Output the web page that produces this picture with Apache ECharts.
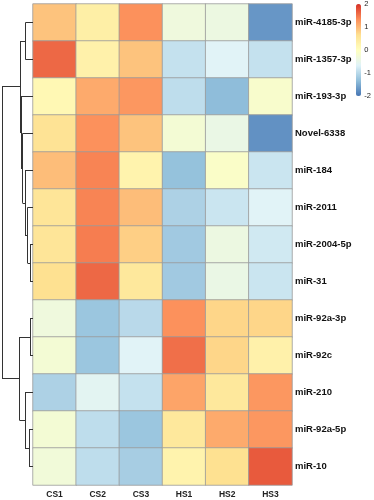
<!DOCTYPE html>
<html><head><meta charset="utf-8">
<script src="https://cdn.jsdelivr.net/npm/echarts@6/dist/echarts.min.js"></script>
<style>html,body{margin:0;padding:0;background:#fff}#c{width:374px;height:500px}</style>
</head><body><div id="c"></div>
<script>
const samples = ['CS1','CS2','CS3','HS1','HS2','HS3'];
const genes = ['miR-4185-3p','miR-1357-3p','miR-193-3p','Novel-6338','miR-184','miR-2011','miR-2004-5p','miR-31','miR-92a-3p','miR-92c','miR-210','miR-92a-5p','miR-10'];
const values = [
  [0.9, 0.35, 1.3, -0.35, -0.4, -1.7],
  [1.6, 0.3, 0.9, -0.9, -0.65, -0.9],
  [0.15, 1.1, 1.25, -0.95, -1.35, -0.15],
  [0.6, 1.3, 0.9, -0.25, -0.45, -1.75],
  [0.95, 1.4, 0.25, -1.3, -0.1, -0.85],
  [0.55, 1.4, 0.95, -1.1, -0.85, -0.65],
  [0.55, 1.45, 0.8, -1.2, -0.4, -0.8],
  [0.65, 1.6, 0.5, -1.2, -0.45, -0.85],
  [-0.35, -1.25, -1.0, 1.3, 0.75, 0.75],
  [-0.25, -1.25, -0.65, 1.55, 0.75, 0.3],
  [-1.1, -0.6, -0.9, 1.15, 0.5, 1.25],
  [-0.25, -0.95, -1.25, 0.5, 1.1, 1.25],
  [-0.3, -0.95, -1.15, 0.25, 0.65, 1.7]
];
const legendTicks = [-2, -1, 0, 1, 2];
const palette = ['#4575B4','#91BFDB','#E0F3F8','#FFFFBF','#FEE090','#FC8D59','#D73027'];
// row dendrogram: [height, left, right]; leaves are row indices
const tree = [31,
  [13, [7.5, 0, 1], [12, 2, [10.5, 3, [8, 4, [5.5, 5, [3, 6, 7]]]]]],
  [13.5, [3, 8, 9], [8, 10, [4, 11, 12]]]
];

const heatData = [];
values.forEach((row, r) => row.forEach((v, c) => heatData.push([c, r, v])));

const segs = [];
function walk(n) {
  if (typeof n === 'number') return {h: 0, y: n + 0.5};
  const a = walk(n[1]), b = walk(n[2]), h = n[0];
  segs.push([[a.h, a.y], [h, a.y]]);
  segs.push([[b.h, b.y], [h, b.y]]);
  segs.push([[h, a.y], [h, b.y]]);
  return {h: h, y: (a.y + b.y) / 2};
}
walk(tree);

const chart = echarts.init(document.getElementById('c'), null, {renderer: 'canvas'});
chart.setOption({
  animation: false,
  textStyle: {fontFamily: 'Liberation Sans, Arial, sans-serif'},
  grid: [
    {left: 33, top: 4, width: 259, height: 481},
    {left: 0, top: 4, width: 33, height: 481},
    {left: 356, top: 4, width: 5, height: 92}
  ],
  xAxis: [
    {type: 'category', data: samples, gridIndex: 0, position: 'bottom',
     axisLine: {show: false}, axisTick: {show: false}, splitLine: {show: false},
     axisLabel: {fontSize: 8.5, fontWeight: 'bold', color: '#222', margin: 5}},
    {type: 'value', gridIndex: 1, min: 0, max: 33, inverse: true, show: false},
    {type: 'value', gridIndex: 2, min: 0, max: 1, show: false}
  ],
  yAxis: [
    {type: 'category', data: genes, gridIndex: 0, inverse: true, position: 'right',
     axisLine: {show: false}, axisTick: {show: false}, splitLine: {show: false},
     axisLabel: {fontSize: 9.5, fontWeight: 'bold', color: '#111', margin: 3}},
    {type: 'value', gridIndex: 1, min: 0, max: 13, inverse: true, show: false},
    {type: 'value', gridIndex: 2, min: -2, max: 2, interval: 1, position: 'right',
     axisLine: {show: false}, axisTick: {show: false}, splitLine: {show: false},
     axisLabel: {fontSize: 7.5, color: '#222', margin: 4}}
  ],
  visualMap: {
    type: 'continuous', min: -2, max: 2, seriesIndex: 0, calculable: false,
    inRange: {color: palette}, orient: 'vertical', left: 356, top: 4,
    itemWidth: 5, itemHeight: 92, text: null, showLabel: false, padding: 0
  },
  series: [
    {type: 'heatmap', xAxisIndex: 0, yAxisIndex: 0, data: heatData,
     itemStyle: {borderColor: '#9a9a9a', borderWidth: 0.8}},
    {type: 'lines', coordinateSystem: 'cartesian2d', xAxisIndex: 1, yAxisIndex: 1,
     data: segs.map(s => ({coords: s})), lineStyle: {color: '#333', width: 1, opacity: 1}}
  ]
});
</script></body></html>
